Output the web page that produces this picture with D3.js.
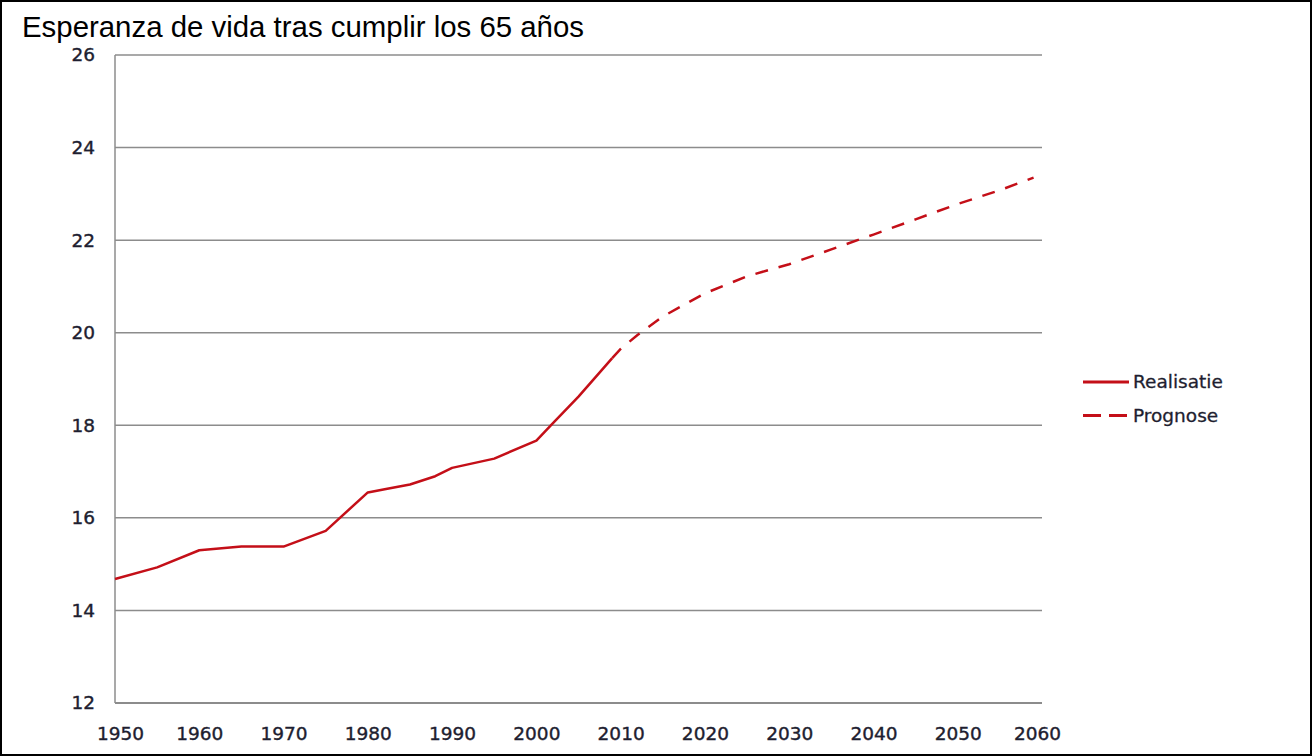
<!DOCTYPE html>
<html>
<head>
<meta charset="utf-8">
<script src="https://cdn.jsdelivr.net/npm/d3@7"></script>
<style>
  body { margin: 0; background: #fff; }
  .tick text { font-family: "DejaVu Sans", Verdana, sans-serif; }
</style>
</head>
<body>
<div class="content"></div>
<script>
var width = 1312
var height = 756

// realisatie (observed) and prognose (forecast)
var realYears = [1950, 1955, 1960, 1962, 1965, 1970, 1975, 1980, 1982, 1985, 1988, 1990, 1995, 2000, 2002, 2005, 2009]
var realValues = [14.68, 14.93, 15.30, 15.33, 15.38, 15.38, 15.72, 16.55, 16.62, 16.72, 16.90, 17.08, 17.28, 17.67, 18.05, 18.62, 19.45]
var progYears = [2009, 2010, 2012, 2015, 2020, 2025, 2030, 2035, 2040, 2045, 2050, 2055, 2059]
var progValues = [19.45, 19.65, 19.95, 20.35, 20.85, 21.22, 21.48, 21.80, 22.12, 22.45, 22.78, 23.08, 23.35]
var xTicks = [1950, 1960, 1970, 1980, 1990, 2000, 2010, 2020, 2030, 2040, 2050, 2060]
var yTicks = [12, 14, 16, 18, 20, 22, 24, 26]
var seriesNames = ['Realisatie', 'Prognose']

var lineColor = '#c40f18'
var labelColor = '#1e1e30'

var svg = d3.select('.content').append('svg')
    .attr('width', width)
    .attr('height', height)

svg.append('rect')
    .attr('x', 1).attr('y', 1)
    .attr('width', width - 2).attr('height', height - 2)
    .attr('fill', '#fff')
    .attr('stroke', '#000')
    .attr('stroke-width', 2)

svg.append('text')
    .attr('x', 22)
    .attr('y', 37)
    .style('font-family', 'Liberation Sans, Arial, sans-serif')
    .style('font-size', '29.4px')
    .attr('fill', '#000')
    .text('Esperanza de vida tras cumplir los 65 años')

var x = d3.scaleLinear().domain([1950, 2060]).range([115, 1042])
var y = d3.scaleLinear().domain([12, 26]).range([703, 55])

// gridlines
svg.append('g')
    .selectAll('line')
    .data(yTicks)
    .enter().append('line')
    .attr('x1', x(1950)).attr('x2', x(2060))
    .attr('y1', function(d) { return y(d) }).attr('y2', function(d) { return y(d) })
    .attr('stroke', '#8c8c8c')
    .attr('stroke-width', function(d) { return d === 12 ? 2 : 1.5 })

svg.append('line')
    .attr('x1', x(1950)).attr('x2', x(1950))
    .attr('y1', y(26)).attr('y2', y(12))
    .attr('stroke', '#8c8c8c')
    .attr('stroke-width', 1.5)

var yAxis = d3.axisLeft(y).tickValues(yTicks).tickSize(0).tickPadding(20)
svg.append('g')
    .attr('transform', 'translate(' + x(1950) + ',0)')
    .call(yAxis)
    .call(function(g) { g.select('.domain').remove() })
    .selectAll('text')
    .style('font-size', '18.5px')
    .attr('fill', labelColor)
    .attr('stroke', labelColor)
    .attr('stroke-width', 0.4)

var xAxis = d3.axisBottom(x).tickValues(xTicks).tickFormat(d3.format('d')).tickSize(0).tickPadding(24)
svg.append('g')
    .attr('transform', 'translate(0,' + y(12) + ')')
    .call(xAxis)
    .call(function(g) { g.select('.domain').remove() })
    .selectAll('text')
    .style('font-size', '18.5px')
    .attr('fill', labelColor)
    .attr('stroke', labelColor)
    .attr('stroke-width', 0.4)
    // first and last labels sit slightly inside the plot edges
    .attr('dx', function(d, i) { return i === 0 ? 5 : (i === xTicks.length - 1 ? -5 : 0) })

var line = d3.line()
    .x(function(d) { return x(d[0]) })
    .y(function(d) { return y(d[1]) })

svg.append('path')
    .datum(d3.zip(realYears, realValues))
    .attr('d', line)
    .attr('fill', 'none')
    .attr('stroke', lineColor)
    .attr('stroke-width', 2.5)
    .attr('stroke-linejoin', 'round')

svg.append('path')
    .datum(d3.zip(progYears, progValues))
    .attr('d', line)
    .attr('fill', 'none')
    .attr('stroke', lineColor)
    .attr('stroke-width', 2.5)
    .attr('stroke-dasharray', '13,11')

// legend
var legend = svg.append('g')
    .selectAll('g')
    .data(seriesNames)
    .enter().append('g')
    .attr('transform', function(d, i) { return 'translate(1083,' + (382 + i * 33.5) + ')' })

legend.append('line')
    .attr('x1', 0).attr('x2', 46)
    .attr('stroke', lineColor)
    .attr('stroke-width', 3)
    .attr('stroke-dasharray', function(d, i) { return i ? '18,8' : null })

legend.append('text')
    .attr('x', 50)
    .attr('dy', '0.35em')
    .style('font-family', 'DejaVu Sans, Verdana, sans-serif')
    .style('font-size', '18.5px')
    .attr('fill', labelColor)
    .attr('stroke', labelColor)
    .attr('stroke-width', 0.3)
    .text(function(d) { return d })
</script>
</body>
</html>
